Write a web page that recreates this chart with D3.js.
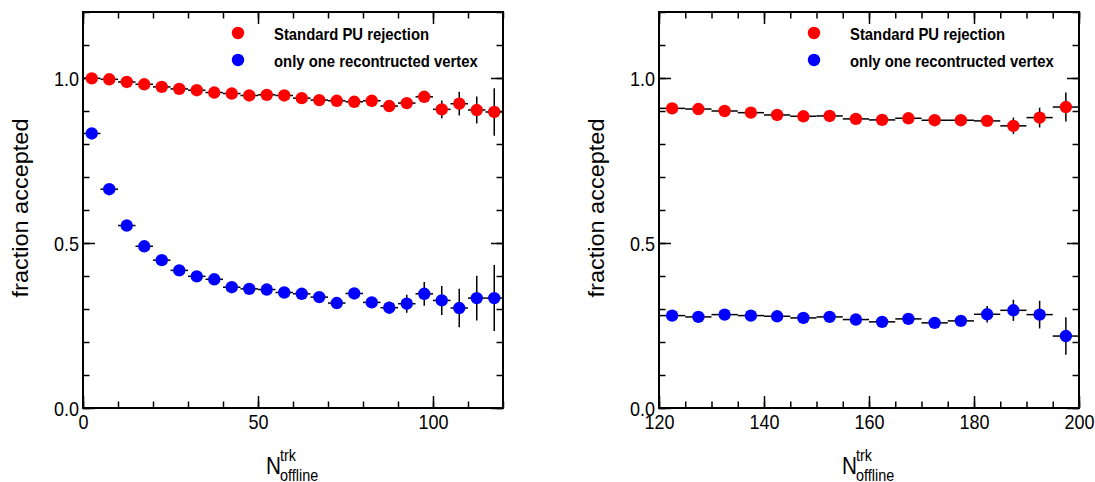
<!DOCTYPE html>
<html>
<head>
<meta charset="utf-8">
<script src="https://cdn.jsdelivr.net/npm/d3@7"></script>
<style>
    body { margin: 0; background: #fff; }
    svg { display: block; font-family: "Liberation Sans", Arial, sans-serif; }
</style>
</head>
<body>
<svg id="chart" width="1095" height="482"></svg>
<script>
// bin centres (5 wide bins)
const xLeft = [2.5, 7.5, 12.5, 17.5, 22.5, 27.5, 32.5, 37.5, 42.5, 47.5, 52.5, 57.5,
    62.5, 67.5, 72.5, 77.5, 82.5, 87.5, 92.5, 97.5, 102.5, 107.5, 112.5, 117.5];
const xRight = [122.5, 127.5, 132.5, 137.5, 142.5, 147.5, 152.5, 157.5,
    162.5, 167.5, 172.5, 177.5, 182.5, 187.5, 192.5, 197.5];

// standard PU rejection
const redLeft = [0.999, 0.996, 0.988, 0.981, 0.973, 0.967, 0.963, 0.956, 0.953, 0.947, 0.949, 0.947,
    0.939, 0.933, 0.931, 0.928, 0.931, 0.915, 0.924, 0.943, 0.905, 0.922, 0.903, 0.897];
const redLeftErr = [0.002, 0.002, 0.002, 0.002, 0.003, 0.003, 0.003, 0.004, 0.004, 0.005, 0.005, 0.006,
    0.006, 0.007, 0.008, 0.008, 0.009, 0.010, 0.012, 0.017, 0.027, 0.036, 0.041, 0.072];
const redRight = [0.908, 0.906, 0.900, 0.895, 0.888, 0.884, 0.885, 0.876,
    0.873, 0.878, 0.872, 0.872, 0.870, 0.855, 0.880, 0.912];
const redRightErr = [0.004, 0.004, 0.005, 0.005, 0.005, 0.006, 0.006, 0.007,
    0.008, 0.009, 0.010, 0.011, 0.013, 0.025, 0.030, 0.044];

// only one reconstructed vertex
const blueLeft = [0.832, 0.663, 0.553, 0.490, 0.448, 0.417, 0.399, 0.390, 0.366, 0.361, 0.359, 0.350,
    0.346, 0.336, 0.318, 0.347, 0.320, 0.304, 0.316, 0.346, 0.326, 0.303, 0.333, 0.333];
const blueLeftErr = [0.002, 0.003, 0.003, 0.004, 0.004, 0.005, 0.005, 0.006, 0.006, 0.006, 0.007, 0.008,
    0.008, 0.009, 0.010, 0.011, 0.013, 0.018, 0.027, 0.036, 0.044, 0.058, 0.068, 0.100];
const blueRight = [0.280, 0.276, 0.283, 0.280, 0.278, 0.273, 0.276, 0.268,
    0.261, 0.270, 0.258, 0.264, 0.284, 0.296, 0.283, 0.218];
const blueRightErr = [0.004, 0.004, 0.005, 0.005, 0.005, 0.006, 0.006, 0.007,
    0.008, 0.010, 0.012, 0.014, 0.025, 0.032, 0.042, 0.057];

const legendLabels = ["Standard PU rejection", "only one recontructed vertex"];
const legendColors = ["#ff0000", "#0000ff"];
const yTicks = [0, 0.5, 1.0];
const xTicksLeft = [0, 50, 100];
const xTicksRight = [120, 140, 160, 180, 200];

const svg = d3.select("#chart");
const plotTop = 12, plotBottom = 408, panelW = 420;
const sx = 0.9; // the picture's text is a bit narrow

const drawPanel = (cfg) => {
    const g = svg.append("g");
    const x = d3.scaleLinear().domain(cfg.domain).range([cfg.x0, cfg.x0 + panelW]);
    const y = d3.scaleLinear().domain([0, 1.2]).range([plotBottom, plotTop]);
    const minorX = d3.range(cfg.domain[0], cfg.domain[1] + 0.01, cfg.minorStep);
    const minorY = d3.range(0, 1.21, 0.1);

    // ticks on all four sides, pointing inward
    const addAxis = (axis, transform, labels) => {
        const a = g.append("g").attr("transform", transform).call(axis);
        a.select(".domain").remove();
        a.selectAll(".tick line").attr("stroke", "#000").attr("stroke-width", 1.5);
        if (!labels) a.selectAll(".tick text").remove();
        return a;
    };
    addAxis(d3.axisBottom(x).tickValues(minorX).tickSize(-6.5).tickFormat(""), `translate(0,${plotBottom})`);
    addAxis(d3.axisTop(x).tickValues(minorX).tickSize(-6.5).tickFormat(""), `translate(0,${plotTop})`);
    addAxis(d3.axisLeft(y).tickValues(minorY).tickSize(-6.5).tickFormat(""), `translate(${cfg.x0},0)`);
    addAxis(d3.axisRight(y).tickValues(minorY).tickSize(-6.5).tickFormat(""), `translate(${cfg.x0 + panelW},0)`);
    addAxis(d3.axisTop(x).tickValues(cfg.ticks).tickSize(-12).tickFormat(""), `translate(0,${plotTop})`);
    addAxis(d3.axisRight(y).tickValues(yTicks).tickSize(-12).tickFormat(""), `translate(${cfg.x0 + panelW},0)`);

    const bx = addAxis(d3.axisBottom(x).tickValues(cfg.ticks).tickSize(-12).tickPadding(6), `translate(0,${plotBottom})`, true);
    bx.selectAll(".tick text")
        .attr("font-size", 20).attr("fill", "#000").attr("dy", "0.75em")
        .attr("transform", `scale(${sx},1)`);
    const ly = addAxis(d3.axisLeft(y).tickValues(yTicks).tickSize(-12).tickPadding(4.5).tickFormat(d3.format(".1f")),
        `translate(${cfg.x0},0)`, true);
    ly.selectAll(".tick text")
        .attr("font-size", 20).attr("fill", "#000").attr("dy", "0.36em")
        .attr("transform", `scale(${sx},1)`);

    // frame
    g.append("rect")
        .attr("x", cfg.x0).attr("y", plotTop)
        .attr("width", panelW).attr("height", plotBottom - plotTop)
        .attr("fill", "none").attr("stroke", "#000").attr("stroke-width", 2);

    // error bars then markers
    cfg.series.forEach((s) => {
        const pts = s.ys.map((v, i) => ({ x: cfg.xs[i], y: v, e: s.errs[i] }));
        const bars = g.append("g").attr("stroke", "#000").attr("stroke-width", 1.5);
        bars.selectAll("line.h").data(pts).join("line")
            .attr("class", "h")
            .attr("x1", (d) => x(d.x - 2.5)).attr("x2", (d) => x(d.x + 2.5))
            .attr("y1", (d) => y(d.y)).attr("y2", (d) => y(d.y));
        bars.selectAll("line.v").data(pts).join("line")
            .attr("class", "v")
            .attr("x1", (d) => x(d.x)).attr("x2", (d) => x(d.x))
            .attr("y1", (d) => y(d.y - d.e)).attr("y2", (d) => y(d.y + d.e));
        g.append("g").selectAll("circle").data(pts).join("circle")
            .attr("cx", (d) => x(d.x)).attr("cy", (d) => y(d.y))
            .attr("r", 6.2).attr("fill", s.color);
    });

    // legend
    legendLabels.forEach((label, i) => {
        const ly0 = 33 + i * 27;
        g.append("circle").attr("cx", cfg.x0 + 155).attr("cy", ly0).attr("r", 6.2).attr("fill", legendColors[i]);
        g.append("text")
            .attr("transform", `translate(${cfg.x0 + 191},${ly0 + 7}) scale(${sx},1)`)
            .attr("font-size", 16.5).attr("font-weight", "bold")
            .text(label);
    });

    // y title
    g.append("text")
        .attr("transform", `translate(${cfg.x0 - 55},${208}) scale(${sx},1) rotate(-90)`)
        .attr("text-anchor", "middle").attr("font-size", 23.5)
        .text("fraction accepted");

    // x title N^trk_offline
    const cx = cfg.x0 + panelW / 2;
    g.append("text")
        .attr("transform", `translate(${cx - 27},474) scale(${sx},1)`)
        .attr("font-size", 23).text("N");
    g.append("text")
        .attr("transform", `translate(${cx - 13},461) scale(${sx},1)`)
        .attr("font-size", 16).text("trk");
    g.append("text")
        .attr("transform", `translate(${cx - 13},481) scale(${sx},1)`)
        .attr("font-size", 16).text("offline");
};

drawPanel({
    x0: 83, domain: [0, 120], ticks: xTicksLeft, minorStep: 10, xs: xLeft,
    series: [
        { ys: redLeft, errs: redLeftErr, color: legendColors[0] },
        { ys: blueLeft, errs: blueLeftErr, color: legendColors[1] },
    ],
});
drawPanel({
    x0: 659, domain: [120, 200], ticks: xTicksRight, minorStep: 5, xs: xRight,
    series: [
        { ys: redRight, errs: redRightErr, color: legendColors[0] },
        { ys: blueRight, errs: blueRightErr, color: legendColors[1] },
    ],
});
</script>
</body>
</html>
